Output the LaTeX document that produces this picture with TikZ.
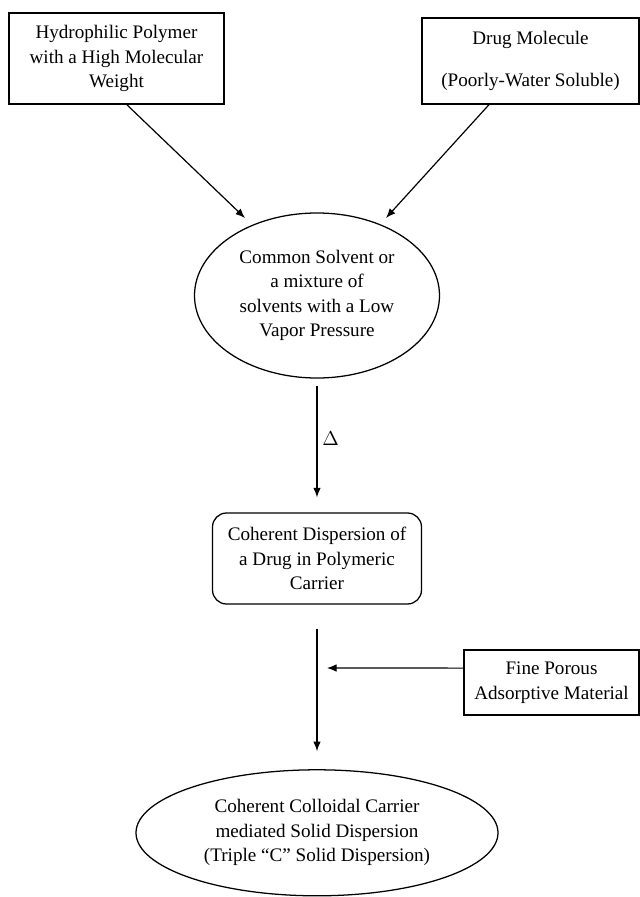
\documentclass[tikz,border=0pt]{standalone}
\usepackage{fontspec}
\setmainfont{Liberation Serif}
\usetikzlibrary{shapes.geometric,arrows.meta}

\begin{document}
\begin{tikzpicture}[
        every node/.style={font=\fontsize{13.6}{17.4}\selectfont, align=center},
        sqbox/.style={draw, line width=1.1pt, inner sep=0pt},
        rndbox/.style={draw, line width=0.9pt, rounded corners=0.35cm, inner sep=0pt},
        oval/.style={draw, ellipse, line width=0.9pt, inner sep=0pt},
        flow/.style={line width=0.85pt, -{Latex[length=2.4mm,width=1.9mm]}}
    ]
        \useasboundingbox (0,0) rectangle (16,-22.425);
        \node[sqbox, minimum width=5.375cm, minimum height=2.275cm] (polymer) at (2.9125,-1.4625) {Hydrophilic Polymer\\with a High Molecular\\Weight};
        \node[sqbox, minimum width=5.425cm, minimum height=2.15cm] (drug) at (13.2625,-1.525) {Drug Molecule\\[0.44cm](Poorly-Water Soluble)};
        \node[oval, minimum width=6.125cm, minimum height=4.125cm] (solvent) at (7.925,-7.3875) {Common Solvent or\\a mixture of\\solvents with a Low\\Vapor Pressure};
        \node[rndbox, minimum width=5.225cm, minimum height=2.275cm] (coherent) at (7.925,-13.9625) {Coherent Dispersion of\\a Drug in Polymeric\\Carrier};
        \node[sqbox, minimum width=4.375cm, minimum height=1.625cm] (porous) at (13.7875,-17.0625) {Fine Porous\\Adsorptive Material};
        \node[oval, minimum width=9.05cm, minimum height=3.15cm] (colloid) at (7.925,-20.82) {Coherent Colloidal Carrier\\mediated Solid Dispersion\\(Triple ``C'' Solid Dispersion)};
        \coordinate (tipL) at (6.125,-5.45);
        \coordinate (tipR) at (9.65,-5.45);
        \coordinate (tipH) at (8.175,-16.7);
        \draw[flow] ([xshift=0.26cm]polymer.south) -- (tipL);
        \draw[flow] ([xshift=-1.04cm]drug.south) -- (tipR);
        \draw[flow, shorten <=0.175cm, shorten >=0.375cm] (solvent.south) -- node[right, pos=0.45] {\(\Delta\)} (coherent.north);
        \draw[flow, shorten <=0.6cm, shorten >=0.45cm] (coherent.south) -- (colloid.north);
        \draw[flow] ([yshift=0.36cm]porous.west) -- (tipH);
    \end{tikzpicture}
\end{document}
